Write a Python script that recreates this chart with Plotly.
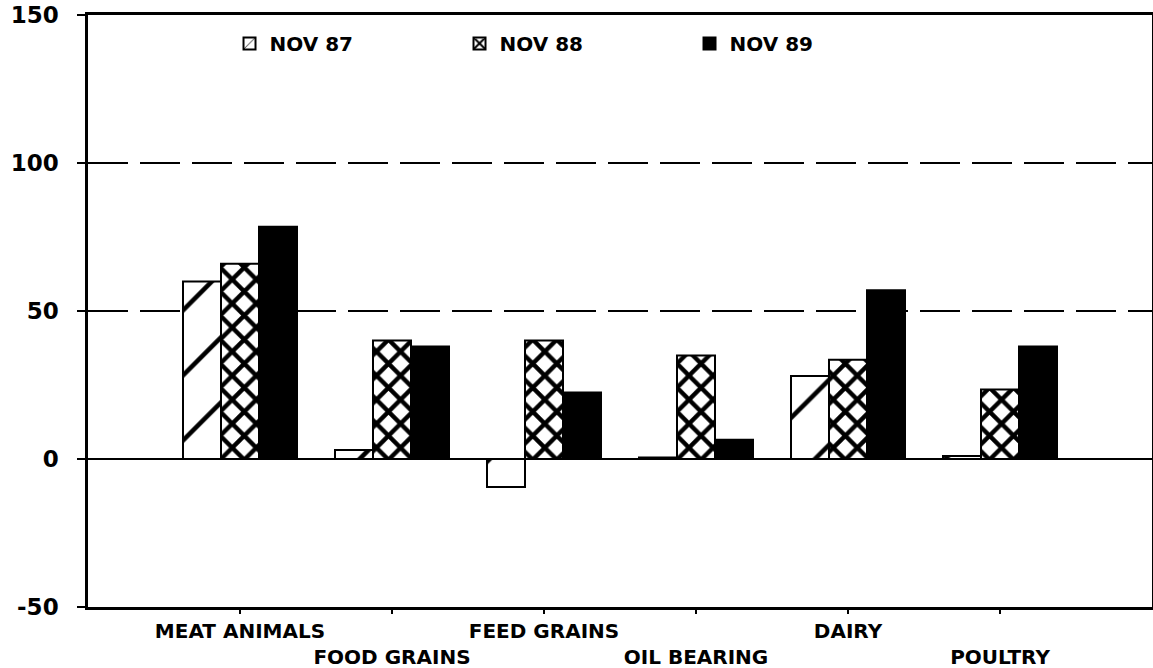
import plotly.graph_objects as go

categories = ["MEAT ANIMALS", "FOOD GRAINS", "FEED GRAINS", "OIL BEARING", "DAIRY", "POULTRY"]
tick_labels = ["MEAT ANIMALS", "<br>FOOD GRAINS", "FEED GRAINS", "<br>OIL BEARING", "DAIRY", "<br>POULTRY"]
nov87 = [60, 3, -9.5, 0.5, 28, 1]
nov88 = [66, 40, 40, 35, 33.5, 23.5]
nov89 = [78.5, 38, 22.5, 6.5, 57, 38]
y_ticks = [-50, 0, 50, 100, 150]
y_tick_text = ["-50", "0", "50", "100", "150"]

FONT = "DejaVu Sans"

fig = go.Figure()
fig.add_trace(go.Bar(
    x=categories, y=nov87, name="NOV 87",
    marker=dict(color="white", line=dict(color="black", width=2),
                pattern=dict(shape="/", fgcolor="black", bgcolor="white", fgopacity=1,
                             size=46, solidity=0.1)),
))
fig.add_trace(go.Bar(
    x=categories, y=nov88, name="NOV 88",
    marker=dict(color="white", line=dict(color="black", width=2),
                pattern=dict(shape="x", fgcolor="black", bgcolor="white", fgopacity=1,
                             size=17, solidity=0.45)),
))
fig.add_trace(go.Bar(
    x=categories, y=nov89, name="NOV 89",
    marker=dict(color="black", line=dict(color="black", width=2)),
))

fig.update_layout(
    width=1153, height=668,
    margin=dict(l=88, r=1, t=15, b=61, autoexpand=False),
    paper_bgcolor="white", plot_bgcolor="white",
    barmode="group", bargap=0.25, bargroupgap=0,
    font=dict(family=FONT, color="black"),
    showlegend=True,
    legend=dict(orientation="h", x=0.133, y=0.985, xanchor="left", yanchor="top",
                font=dict(family=FONT, size=20, color="black", weight="bold"),
                entrywidth=185, bgcolor="rgba(0,0,0,0)"),
)
fig.update_xaxes(
    type="category", range=[-1, 6], automargin=False, tickangle=0,
    tickmode="array", tickvals=categories, ticktext=tick_labels,
    showline=True, linecolor="black", linewidth=2.5, mirror=True,
    ticks="outside", ticklen=4, tickwidth=2, tickcolor="black",
    showgrid=False,
    tickfont=dict(family=FONT, size=20, color="black", weight="bold"),
)
fig.update_yaxes(
    range=[-50, 150], automargin=False,
    tickmode="array", tickvals=y_ticks, ticktext=y_tick_text,
    showline=True, linecolor="black", linewidth=2.5, mirror=True,
    ticks="outside", ticklen=8, tickwidth=2, tickcolor="black",
    showgrid=True, gridcolor="black", gridwidth=2, griddash="40px,12px",
    zeroline=True, zerolinecolor="black", zerolinewidth=2,
    ticklabelstandoff=14,
    tickfont=dict(family=FONT, size=23, color="black", weight="bold"),
)

fig.write_html("out.html",
               config={"displayModeBar": False},
               post_script="document.body.style.margin='0';document.body.style.overflow='hidden';")
